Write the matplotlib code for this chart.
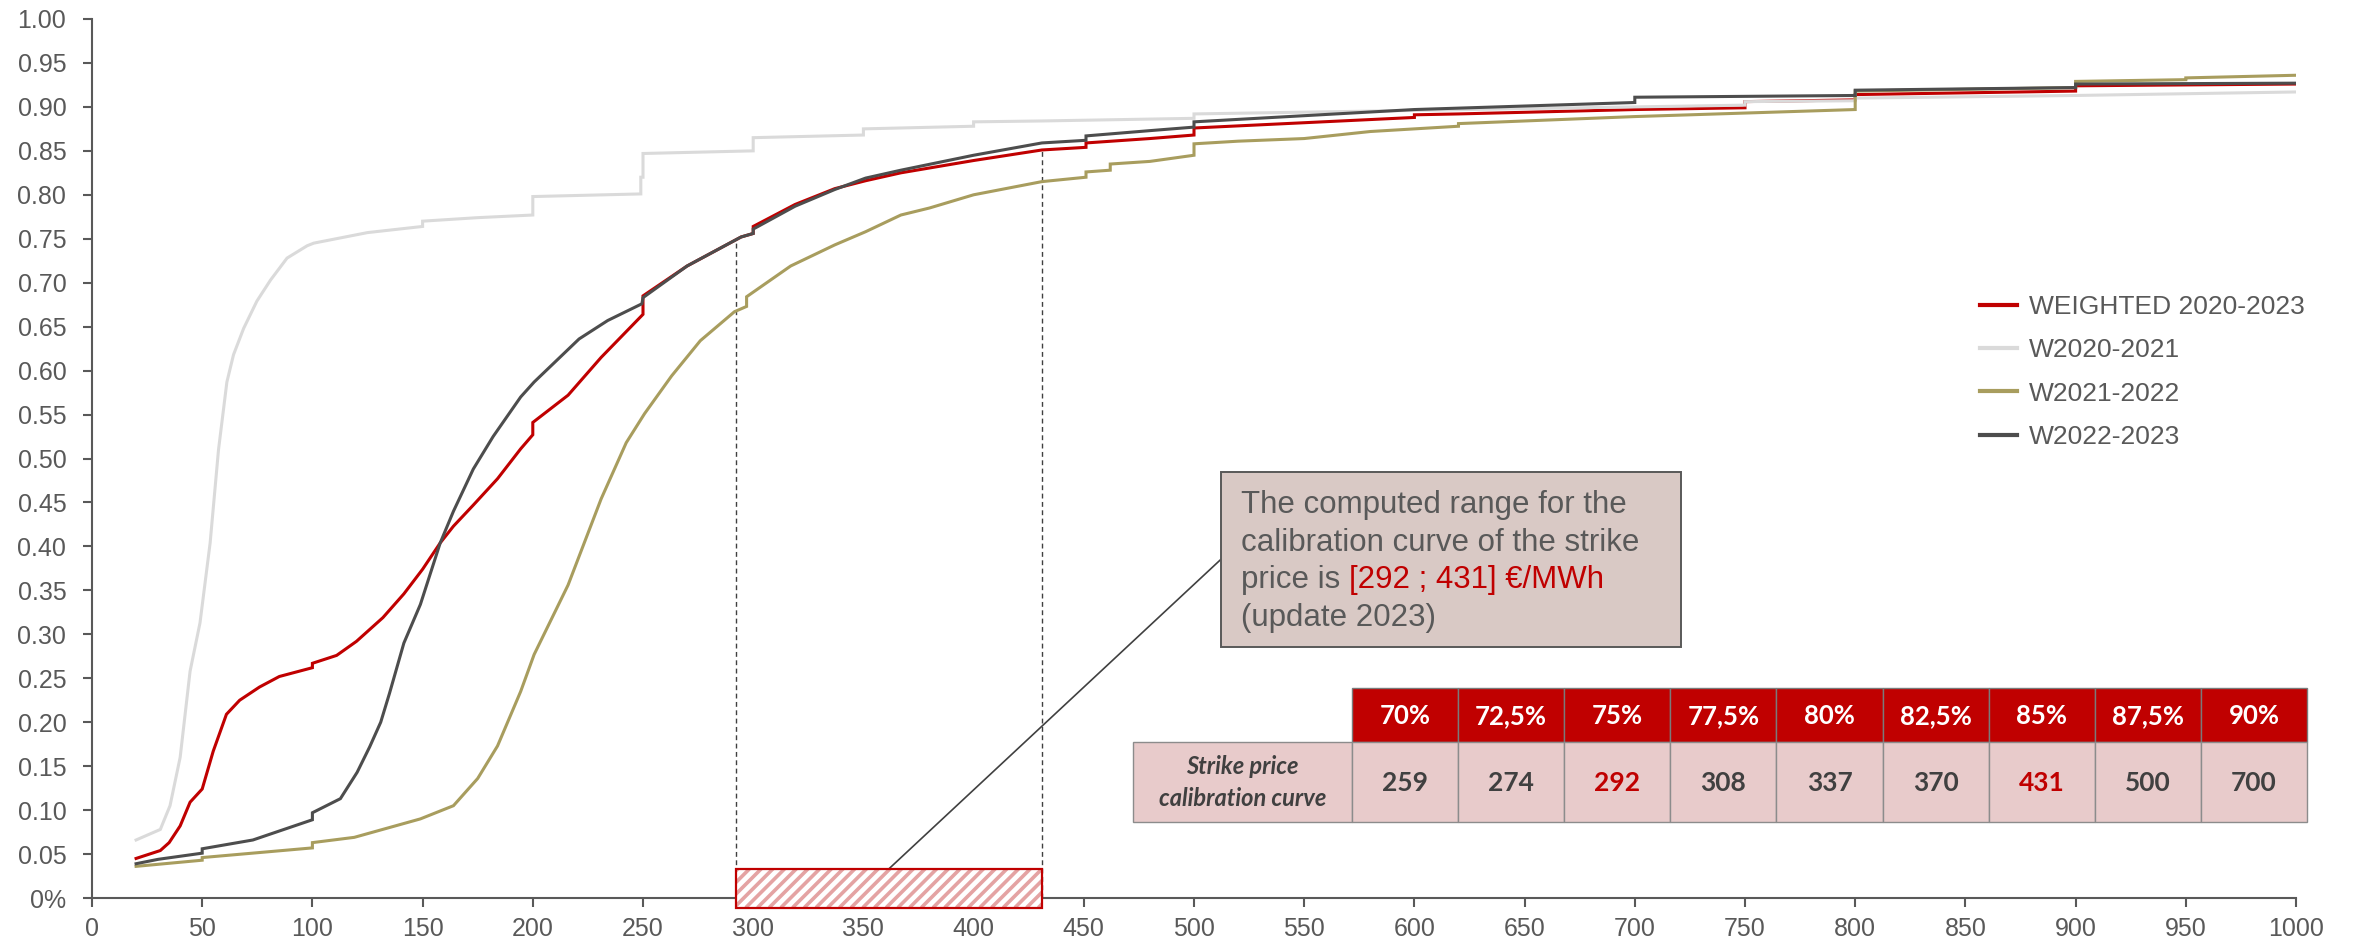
import matplotlib
matplotlib.use("Agg")
import matplotlib.pyplot as plt
import matplotlib.transforms as mtransforms
from matplotlib.patches import Rectangle
from matplotlib.lines import Line2D
from matplotlib.collections import LineCollection
import numpy as np

plt.rcParams['font.family'] = ['Liberation Sans', 'DejaVu Sans']

# ---------------------------------------------------------------- data
weighted_x = [20, 31, 35, 40, 44.5, 50, 55, 61, 67, 76, 85, 100, 100, 111, 120, 132,
              141.5, 150, 158, 164, 173, 184, 194.5, 200, 200, 216, 231, 250, 250, 270,
              294.5, 300, 300, 319, 337, 351, 367, 400, 431, 451, 451, 480, 500, 500,
              550, 600, 600, 620, 700, 750, 750, 800, 800, 900, 900, 1000]
weighted_y = [0.045, 0.054, 0.063, 0.082, 0.109, 0.124, 0.167, 0.209, 0.225, 0.240,
              0.252, 0.262, 0.267, 0.276, 0.292, 0.319, 0.346, 0.374, 0.404, 0.423,
              0.447, 0.477, 0.511, 0.527, 0.541, 0.572, 0.615, 0.664, 0.685, 0.719,
              0.752, 0.756, 0.764, 0.789, 0.807, 0.816, 0.825, 0.839, 0.851, 0.854,
              0.859, 0.864, 0.868, 0.876, 0.882, 0.888, 0.891, 0.892, 0.897, 0.899,
              0.906, 0.908, 0.914, 0.918, 0.924, 0.926]

w2021_x = [20, 31, 35.4, 40, 44.5, 49, 53.6, 57.4, 61.2, 64.2, 68.8, 74.8, 81, 88.5,
           97.6, 100.6, 125, 150, 150, 175, 200, 200, 249, 249, 250, 250, 300, 300,
           350, 350, 400, 400, 431, 500, 500, 550, 600, 700, 750, 750, 800, 800, 900, 1000]
w2021_y = [0.066, 0.078, 0.105, 0.160, 0.258, 0.313, 0.404, 0.510, 0.587, 0.618, 0.648,
           0.679, 0.703, 0.728, 0.742, 0.745, 0.757, 0.764, 0.770, 0.774, 0.777, 0.798,
           0.801, 0.820, 0.820, 0.847, 0.850, 0.865, 0.868, 0.875, 0.878, 0.883, 0.884,
           0.887, 0.892, 0.894, 0.896, 0.900, 0.902, 0.906, 0.907, 0.910, 0.913, 0.917]

w2122_x = [20, 50, 50, 100, 100, 119, 149, 164, 175, 184, 194.5, 200.6, 216, 231,
           242.4, 250.7, 263, 276, 291.5, 297, 297, 317, 337, 351, 367, 380, 400, 431,
           451, 451, 462, 462, 480, 500, 500, 520, 550, 580, 620, 620, 700, 800, 800,
           900, 900, 950, 950, 1000]
w2122_y = [0.036, 0.043, 0.046, 0.057, 0.063, 0.069, 0.090, 0.105, 0.136, 0.173,
           0.235, 0.277, 0.356, 0.454, 0.518, 0.551, 0.594, 0.634, 0.667, 0.673, 0.684,
           0.719, 0.743, 0.758, 0.777, 0.785, 0.800, 0.815, 0.820, 0.826, 0.828, 0.835,
           0.838, 0.845, 0.858, 0.861, 0.864, 0.872, 0.878, 0.881, 0.889, 0.897, 0.918,
           0.922, 0.929, 0.931, 0.933, 0.936]

w2223_x = [20, 30, 50, 50, 73, 100, 100, 112.7, 120.3, 126, 131, 135, 141.5, 149,
           158, 164, 173, 182, 194.5, 200.6, 221, 234, 249.5, 250, 270, 294.5, 300, 300,
           319, 337, 351, 367, 400, 431, 451, 451, 480, 500, 500, 550, 600, 700, 700,
           800, 800, 900, 900, 1000]
w2223_y = [0.039, 0.044, 0.051, 0.056, 0.066, 0.089, 0.097, 0.113, 0.143, 0.172,
           0.200, 0.233, 0.290, 0.334, 0.404, 0.440, 0.488, 0.525, 0.570, 0.587, 0.636,
           0.657, 0.676, 0.683, 0.719, 0.752, 0.756, 0.761, 0.787, 0.806, 0.819, 0.828,
           0.845, 0.859, 0.862, 0.867, 0.873, 0.877, 0.883, 0.890, 0.897, 0.905, 0.911,
           0.913, 0.919, 0.922, 0.926, 0.927]

series_names = ["WEIGHTED 2020-2023", "W2020-2021", "W2021-2022", "W2022-2023"]

x_ticks = list(range(0, 1001, 50))
x_tick_labels = [str(v) for v in x_ticks]
y_ticks = [0.0, 0.05, 0.10, 0.15, 0.20, 0.25, 0.30, 0.35, 0.40, 0.45, 0.50,
           0.55, 0.60, 0.65, 0.70, 0.75, 0.80, 0.85, 0.90, 0.95, 1.00]
y_tick_labels = ["0%", "0.05", "0.10", "0.15", "0.20", "0.25", "0.30", "0.35", "0.40",
                 "0.45", "0.50", "0.55", "0.60", "0.65", "0.70", "0.75", "0.80", "0.85",
                 "0.90", "0.95", "1.00"]

levels = ["70%", "72,5%", "75%", "77,5%", "80%", "82,5%", "85%", "87,5%", "90%"]
level_values = [0.70, 0.725, 0.75, 0.775, 0.80, 0.825, 0.85, 0.875, 0.90]
strike_prices = [259, 274, 292, 308, 337, 370, 431, 500, 700]
range_low_idx, range_high_idx = 2, 6

# ---------------------------------------------------------------- style
RED = "#C00000"
LIGHT = "#DADADA"
OLIVE = "#A89D5E"
DARK = "#4D4D4D"
TXT = "#595959"
colors = [RED, LIGHT, OLIVE, DARK]

W, H, DPI = 2356, 943, 100
fig = plt.figure(figsize=(W / DPI, H / DPI), dpi=DPI)
ax = fig.add_axes([92 / W, 1 - 898 / H, (2296 - 92) / W, (898 - 19) / H])
# pixel helper transform (origin top-left of the figure)
pix = mtransforms.Affine2D().scale(1 / W, -1 / H).translate(0, 1) + fig.transFigure

series = [(weighted_x, weighted_y), (w2021_x, w2021_y), (w2122_x, w2122_y), (w2223_x, w2223_y)]
for (xs, ys), c, name in zip(series, colors, series_names):
    ax.plot(xs, ys, color=c, lw=2.2, label=name, solid_joinstyle='miter', zorder=3)

ax.set_xlim(0, 1000)
ax.set_ylim(0, 1.0)
for s in ['top', 'right']:
    ax.spines[s].set_visible(False)
for s in ['left', 'bottom']:
    ax.spines[s].set_color(TXT)
    ax.spines[s].set_linewidth(1.5)
ax.set_xticks(x_ticks)
ax.set_xticklabels(x_tick_labels)
ax.set_yticks(y_ticks)
ax.set_yticklabels(y_tick_labels)
ax.tick_params(axis='both', colors=TXT, labelcolor=TXT, labelsize=18,
               width=1.5, length=6.5, direction='out')
ax.tick_params(axis='y', pad=12)
ax.tick_params(axis='x', pad=7)

# ------------------------------------------------ strike range markers
lo = strike_prices[range_low_idx]
hi = strike_prices[range_high_idx]
for xv, lv in ((lo, level_values[range_low_idx]), (hi, level_values[range_high_idx])):
    ax.plot([xv, xv], [0, lv], color='#404040', lw=1.0, ls=(0, (3.5, 2.5)), zorder=2)

band = Rectangle((lo, -0.011), hi - lo, 0.044, facecolor='white', edgecolor='none',
                 zorder=5, clip_on=False)
ax.add_patch(band)
# diagonal stripes inside the band, laid out in display pixels
x0p = ax.transData.transform((lo, 0))[0]
x1p = ax.transData.transform((hi, 0))[0]
yb = ax.transData.transform((0, -0.011))[1]
segs = [[(x0p + k, yb), (x0p + k + 60, yb + 60)]
        for k in np.arange(-60, (x1p - x0p) + 60, 11.7)]
stripes = LineCollection(segs, colors='#E4A3A3', linewidths=2.6,
                         transform=mtransforms.IdentityTransform(), zorder=6)
ax.add_collection(stripes)
stripes.set_clip_path(band)
ax.add_patch(Rectangle((lo, -0.011), hi - lo, 0.044, facecolor='none',
                       edgecolor=RED, lw=1.6, zorder=7, clip_on=False))

# ------------------------------------------------ callout
box_l, box_r, box_b, box_t = 512.3, 721.0, 0.286, 0.485
ax.plot([(lo + hi) / 2, box_l], [0.033, (box_b + box_t) / 2], color='#404040',
        lw=1.2, zorder=4, clip_on=False)
ax.add_patch(Rectangle((box_l, box_b), box_r - box_l, box_t - box_b,
                       facecolor='#D9C9C5', edgecolor=TXT, lw=1.4, zorder=6))
tx = 521.5
fs_box = 22.5
ax.text(tx, 0.4377, "The computed range for the", fontsize=fs_box, color=TXT,
        va='baseline', zorder=7)
ax.text(tx, 0.3951, "calibration curve of the strike", fontsize=fs_box, color=TXT,
        va='baseline', zorder=7)
t3 = ax.text(tx, 0.3523, "price is", fontsize=fs_box, color=TXT, va='baseline', zorder=7)
ax.text(tx, 0.3098, "(update 2023)", fontsize=fs_box, color=TXT, va='baseline', zorder=7)
fig.canvas.draw()
bb = t3.get_window_extent()
space_px = 0.278 * fs_box * DPI / 72
xr = ax.transData.inverted().transform((bb.x1 + space_px, 0))[0]
ax.text(xr, 0.3523, f"[{lo} ; {hi}] €/MWh", fontsize=fs_box, color=RED,
        va='baseline', zorder=7)

# ------------------------------------------------ legend
handles = [Line2D([], [], color=c, lw=3.0) for c in colors]
fig.legend(handles, series_names, loc='upper left', bbox_to_anchor=(1980 / W, 1 - 295 / H),
           frameon=False, fontsize=19, labelcolor=TXT, handlelength=1.4,
           handletextpad=0.45, labelspacing=0.73, borderpad=0, borderaxespad=0)

# ------------------------------------------------ calibration table
tfont = ['Lato', 'DejaVu Sans']
head_top, head_bot, row_bot = 688, 742, 822
lab_l, cells_l, cells_r = 1133, 1352, 2307
cw = (cells_r - cells_l) / len(levels)
grid_c = '#8C8C8C'
fig.add_artist(Rectangle((lab_l, head_bot), cells_l - lab_l, row_bot - head_bot,
                         facecolor='#E8CBCB', edgecolor=grid_c, lw=1.0, transform=pix))
fig.text((lab_l + cells_l) / 2, 766, "Strike price", transform=pix, ha='center',
         va='center', family=tfont, fontsize=17, fontweight='bold', style='italic',
         color='#404040')
fig.text((lab_l + cells_l) / 2, 799, "calibration curve", transform=pix, ha='center',
         va='center', family=tfont, fontsize=17, fontweight='bold', style='italic',
         color='#404040')
for i, (lvl, sp) in enumerate(zip(levels, strike_prices)):
    cx = cells_l + i * cw
    fig.add_artist(Rectangle((cx, head_top), cw, head_bot - head_top, facecolor=RED,
                             edgecolor='#7A7A7A', lw=1.0, transform=pix))
    fig.add_artist(Rectangle((cx, head_bot), cw, row_bot - head_bot, facecolor='#E8CBCB',
                             edgecolor=grid_c, lw=1.0, transform=pix))
    fig.text(cx + cw / 2, (head_top + head_bot) / 2 + 1, lvl, transform=pix, ha='center',
             va='center', family=tfont, fontsize=18.5, fontweight='bold', color='white')
    hl = i in (range_low_idx, range_high_idx)
    fig.text(cx + cw / 2, (head_bot + row_bot) / 2 + 1, str(sp), transform=pix,
             ha='center', va='center', family=tfont, fontsize=19, fontweight='bold',
             color=RED if hl else '#404040')

fig.savefig("out.png", dpi=DPI)
